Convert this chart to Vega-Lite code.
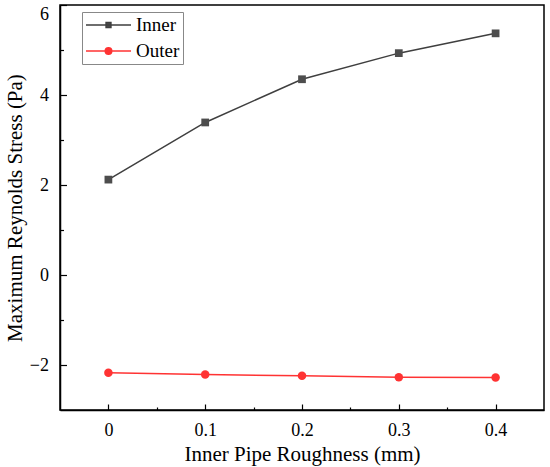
{
  "$schema": "https://vega.github.io/schema/vega-lite/v6.json",
  "width": 484,
  "height": 405,
  "autosize": {"type": "none"},
  "padding": {"left": 60, "top": 5, "right": 6, "bottom": 57},
  "config": {
    "font": "Liberation Serif",
    "view": {"stroke": "#000", "strokeWidth": 1.5},
    "axis": {
      "grid": false,
      "domainColor": "#000",
      "domainWidth": 1.5,
      "tickColor": "#000",
      "tickWidth": 1.2,
      "labelColor": "#000",
      "titleColor": "#000",
      "labelFont": "Liberation Serif",
      "titleFont": "Liberation Serif",
      "labelFontSize": 18,
      "titleFontSize": 21,
      "titleFontWeight": "normal",
      "labelOverlap": false,
      "labelFlush": false
    },
    "legend": {
      "labelFont": "Liberation Serif",
      "labelFontSize": 19,
      "labelColor": "#000",
      "strokeColor": "#888",
      "fillColor": "#fff",
      "padding": 3,
      "rowPadding": 6,
      "labelOffset": 31,
      "symbolStrokeWidth": 1.5,
      "symbolOpacity": 1
    }
  },
  "data": {
    "values": [
      {"roughness": 0, "series": "Inner", "stress": 2.12},
      {"roughness": 0.1, "series": "Inner", "stress": 3.39},
      {"roughness": 0.2, "series": "Inner", "stress": 4.35},
      {"roughness": 0.3, "series": "Inner", "stress": 4.93},
      {"roughness": 0.4, "series": "Inner", "stress": 5.37},
      {"roughness": 0, "series": "Outer", "stress": -2.17},
      {"roughness": 0.1, "series": "Outer", "stress": -2.21},
      {"roughness": 0.2, "series": "Outer", "stress": -2.24},
      {"roughness": 0.3, "series": "Outer", "stress": -2.27},
      {"roughness": 0.4, "series": "Outer", "stress": -2.28}
    ]
  },
  "encoding": {
    "x": {
      "field": "roughness",
      "type": "quantitative",
      "scale": {"domain": [-0.05, 0.45], "nice": false, "zero": false},
      "axis": {
        "title": "Inner Pipe Roughness (mm)",
        "values": [0, 0.05, 0.1, 0.15, 0.2, 0.25, 0.3, 0.35, 0.4],
        "tickSize": -6,
        "tickDash": {"condition": {"test": "round(datum.value*20)%2==1", "value": [3, 20]}, "value": [6, 0]},
        "labelExpr": "round(datum.value*20)%2==0 ? format(datum.value,'~g') : ''",
        "labelAngle": 0,
        "labelPadding": 17,
        "titleBaseline": "alphabetic",
        "titleY": 50
      }
    },
    "y": {
      "field": "stress",
      "type": "quantitative",
      "scale": {"domain": [-3, 6], "nice": false, "zero": false},
      "axis": {
        "title": "Maximum Reynolds Stress (Pa)",
        "values": [-2, -1, 0, 1, 2, 3, 4, 5, 6],
        "tickSize": -6.5,
        "tickDash": {"condition": {"test": "abs(datum.value%2)==1", "value": [3.5, 20]}, "value": [7, 0]},
        "labelExpr": "abs(datum.value%2)==0 ? format(datum.value,'~g') : ''",
        "labelPadding": 18,
        "labelFlush": true,
        "titleBaseline": "alphabetic",
        "titleX": -39
      }
    }
  },
  "layer": [
    {
      "transform": [{"filter": "datum.series==='Inner'"}],
      "mark": {"type": "line", "color": "#3f3f3f", "strokeWidth": 1.5},
      "encoding": {}
    },
    {
      "transform": [{"filter": "datum.series==='Outer'"}],
      "mark": {"type": "line", "color": "#ff3333", "strokeWidth": 1.5},
      "encoding": {}
    },
    {
      "transform": [{"filter": "datum.series==='Inner'"}],
      "mark": {"type": "point", "shape": "square", "filled": true, "color": "#4d4d4d", "size": 60, "opacity": 1}
    },
    {
      "transform": [{"filter": "datum.series==='Outer'"}],
      "mark": {"type": "point", "shape": "circle", "filled": true, "color": "#ff3333", "size": 72, "opacity": 1}
    },
    {
      "mark": {"type": "point", "opacity": 0, "size": 324, "strokeWidth": 1.5},
      "encoding": {
        "shape": {
          "field": "series",
          "type": "nominal",
          "scale": {
            "domain": ["Inner", "Outer"],
            "range": [
              "M-1,0H4M1.23,-0.27H1.77V0.27H1.23Z",
              "M-1,0H4M1.14,0A0.36,0.36 0 1,0 1.86,0A0.36,0.36 0 1,0 1.14,0Z"
            ]
          },
          "legend": {"title": null, "orient": "none", "legendX": 22, "legendY": 7, "symbolSize": 324}
        },
        "fill": {
          "field": "series",
          "type": "nominal",
          "scale": {"domain": ["Inner", "Outer"], "range": ["#4d4d4d", "#ff3333"]}
        },
        "stroke": {
          "field": "series",
          "type": "nominal",
          "scale": {"domain": ["Inner", "Outer"], "range": ["#3f3f3f", "#ff3333"]}
        }
      }
    }
  ]
}
